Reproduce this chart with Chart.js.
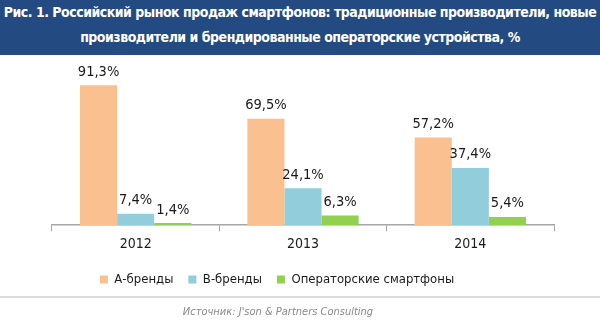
<!DOCTYPE html>
<html>
  <head>
    <title>
      Smartphone market chart
    </title>
    <script src="https://cdn.jsdelivr.net/npm/chart.js"></script>
    <style>
      body { margin: 0; width: 600px; height: 322px; position: relative; background: #fff; overflow: hidden; }
      #head { position: absolute; left: 0; top: 0; width: 600px; height: 55px; background: #244b81; color: #fff;
        font: bold 14px "DejaVu Sans Condensed", "DejaVu Sans", sans-serif; line-height: 25px; text-align: center;
        white-space: nowrap; letter-spacing: -0.5px; }
      #box { position: absolute; left: 0; top: 55px; width: 600px; height: 267px; }
      #line { position: absolute; left: 0; top: 296px; width: 600px; height: 2px; background: #dcdcdc; }
      #src { position: absolute; left: 0; top: 305px; width: 556px; text-align: center; color: #8a8a8a;
        font: italic 11px "DejaVu Sans Condensed", "DejaVu Sans", sans-serif; }
    </style>
  </head>
  <body>
    <div id="head">Рис. 1. Российский рынок продаж смартфонов: традиционные производители, новые<br>производители и брендированные операторские устройства, %</div>
    <div id="box">
      <canvas id="myChart"></canvas>
    </div>
    <div id="line"></div>
    <div id="src">Источник: J'son &amp; Partners Consulting</div>
    <script>
      'use strict'
      const years = ['2012', '2013', '2014'];
      const aBrands = [91.3, 69.5, 57.2];
      const bBrands = [7.4, 24.1, 37.4];
      const operatorPhones = [1.4, 6.3, 5.4];
      const font = 'DejaVu Sans Condensed';

      // value labels above each bar, with comma as decimal mark
      const barLabels = {
        id: 'barLabels',
        afterDatasetsDraw(chart) {
          const ctx = chart.ctx;
          ctx.save();
          ctx.font = '14.5px "' + font + '"';
          ctx.fillStyle = '#1a1a1a';
          ctx.textAlign = 'center';
          ctx.textBaseline = 'bottom';
          chart.data.datasets.forEach((ds, i) => {
            chart.getDatasetMeta(i).data.forEach((bar, j) => {
              const text = ds.data[j].toFixed(1).replace('.', ',') + '%';
              ctx.fillText(text, bar.x, bar.y - 6);
            });
          });
          ctx.restore();
        }
      };

      const ctx = document.getElementById('myChart');

      new Chart(ctx, {
        type: 'bar',
        data: {
          labels: years,
          datasets: [
            { label: 'А-бренды', data: aBrands, backgroundColor: '#fac090' },
            { label: 'В-бренды', data: bBrands, backgroundColor: '#92cddc' },
            { label: 'Операторские смартфоны', data: operatorPhones, backgroundColor: '#92d050' },
          ]
        },
        options: {
          responsive: true,
          maintainAspectRatio: false,
          animation: false,
          datasets: { bar: { barPercentage: 1, categoryPercentage: 0.665 } },
          layout: { padding: { top: 17, left: 0, right: 46, bottom: 26 } },
          plugins: {
            tooltip: { enabled: false },
            legend: {
              position: 'bottom',
              labels: { boxWidth: 8, boxHeight: 8, padding: 15, color: '#1a1a1a', font: { family: font, size: 13 } }
            }
          },
          scales: {
            x: {
              grid: { offset: true, drawOnChartArea: false, drawTicks: true, tickLength: 6, color: '#a6a6a6' },
              border: { display: true, color: '#a6a6a6', width: 1.5 },
              ticks: { padding: 5, color: '#1a1a1a', font: { family: font, size: 14 } }
            },
            y: {
              min: 0, max: 100,
              grid: { display: false },
              border: { display: false },
              ticks: { display: false },
              afterFit(scale) { scale.width = 52; }
            }
          }
        },
        plugins: [barLabels]
      });
    </script>
  </body>
</html>
